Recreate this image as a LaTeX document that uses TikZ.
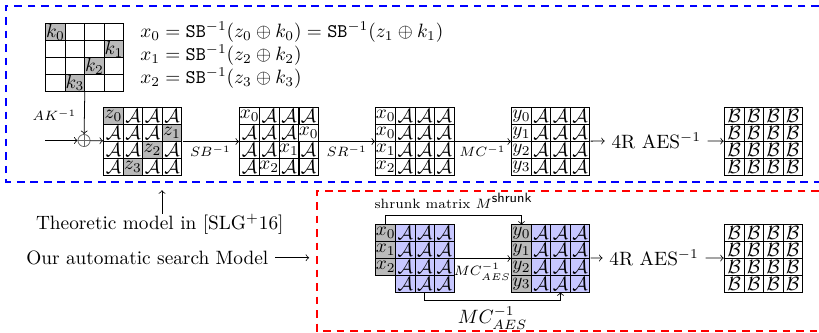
\documentclass[tikz,border=0pt]{standalone}
\usetikzlibrary{matrix}
\newcommand{\cA}{\mathcal{A}}
\newcommand{\cB}{\mathcal{B}}
\tikzset{
  cell/.style={draw, minimum width=0.355cm, minimum height=0.307cm, inner sep=0pt, outer sep=0pt, anchor=center},
  gr/.style={fill=black!27},
  bl/.style={fill=blue!22},
  state/.style={matrix of math nodes, nodes={cell}, column sep=-\pgflinewidth, row sep=-\pgflinewidth, inner sep=0pt, anchor=north west},
  lbl/.style={below=1pt, inner sep=1pt},
  frame/.style={thick, dash pattern=on 4pt off 3pt},
}
\begin{document}
\begin{tikzpicture}
\useasboundingbox (0,0) rectangle (14.914,6.064);

\matrix (K) [state, nodes in empty cells] at (0.82,5.645) {
|[gr]| k_0 & & & \\
& & & |[gr]| k_1 \\
& & |[gr]| k_2 & \\
& |[gr]| k_3 & & \\
};
\node[anchor=west, align=left] (eqs) at (2.43,5.06) {$x_0 = \texttt{SB}^{-1}(z_0\oplus k_0) = \texttt{SB}^{-1}(z_1\oplus k_1)$\\
$x_1 = \texttt{SB}^{-1}(z_2\oplus k_2)$\\
$x_2 = \texttt{SB}^{-1}(z_3\oplus k_3)$};

\matrix (S1) [state] at (1.876,4.115) {
|[gr]| z_0 & \cA & \cA & \cA \\
\cA & \cA & \cA & |[gr]| z_1 \\
\cA & \cA & |[gr]| z_2 & \cA \\
\cA & |[gr]| z_3 & \cA & \cA \\
};
\matrix (S2) [state] at (4.352,4.115) {
x_0 & \cA & \cA & \cA \\
\cA & \cA & \cA & x_0 \\
\cA & \cA & x_1 & \cA \\
\cA & x_2 & \cA & \cA \\
};
\matrix (S3) [state] at (6.829,4.115) {
x_0 & \cA & \cA & \cA \\
x_0 & \cA & \cA & \cA \\
x_1 & \cA & \cA & \cA \\
x_2 & \cA & \cA & \cA \\
};
\matrix (S4) [state] at (9.305,4.115) {
y_0 & \cA & \cA & \cA \\
y_1 & \cA & \cA & \cA \\
y_2 & \cA & \cA & \cA \\
y_3 & \cA & \cA & \cA \\
};
\node (aes1) at (11.95,3.505) {4R AES$^{-1}$};
\matrix (B1) [state] at (13.18,4.115) {
\cB & \cB & \cB & \cB \\
\cB & \cB & \cB & \cB \\
\cB & \cB & \cB & \cB \\
\cB & \cB & \cB & \cB \\
};

\node[circle, draw=black!60, minimum size=0.22cm, inner sep=0pt] (xor) at (1.53,3.505) {};
\draw[black!60] (xor.north) -- (xor.south) (xor.west) -- (xor.east);
\coordinate (in) at (0.82,3.505);
\node (ak) at (1.00,3.97) {$_{AK^{-1}}$};

\draw[->] (in) -- (xor);
\draw[->] (K-4-2.south east) -- (xor);
\draw[->] (xor) -- (S1);
\draw[->] (S1) -- node[lbl] {$_{SB^{-1}}$} (S2);
\draw[->] (S2) -- node[lbl] {$_{SR^{-1}}$} (S3);
\draw[->] (S3) -- node[lbl] {$_{MC^{-1}}$} (S4);
\draw[->] (S4) -- (aes1);
\draw[->] (aes1) -- (B1);

\node[inner sep=0pt] (theo) at (2.91,1.985) {Theoretic model in [SLG$^+$16]};
\coordinate (blue) at (2.95,2.60);
\draw[->] (theo.north -| blue) -- (blue);
\node[anchor=east] (ours) at (5.01,1.37) {Our automatic search Model};
\coordinate (red) at (5.63,1.37);
\draw[->] (ours) -- (red);

\matrix (G5) [state, column 1/.style={nodes={gr}}, column 2/.style={nodes={bl}}, column 3/.style={nodes={bl}}, column 4/.style={nodes={bl}}] at (6.829,1.985) {
x_0 & \cA & \cA & \cA \\
x_1 & \cA & \cA & \cA \\
x_2 & \cA & \cA & \cA \\
& \cA & \cA & \cA \\
};
\matrix (G6) [state, column 1/.style={nodes={gr}}, column 2/.style={nodes={bl}}, column 3/.style={nodes={bl}}, column 4/.style={nodes={bl}}] at (9.305,1.985) {
y_0 & \cA & \cA & \cA \\
y_1 & \cA & \cA & \cA \\
y_2 & \cA & \cA & \cA \\
y_3 & \cA & \cA & \cA \\
};
\node (aes2) at (11.91,1.375) {4R AES$^{-1}$};
\matrix (B2) [state] at (13.18,1.985) {
\cB & \cB & \cB & \cB \\
\cB & \cB & \cB & \cB \\
\cB & \cB & \cB & \cB \\
\cB & \cB & \cB & \cB \\
};

\draw[->] (G5) -- node[lbl] {$_{MC^{-1}_{AES}}$} (G6);
\draw[->] (G6) -- (aes2);
\draw[->] (aes2) -- (B2);
\draw[->] (G5-1-1.north) -- ++(0,0.164) -| node[pos=0.25, above, font=\scriptsize] {shrunk matrix $M^{\textsf{shrunk}}$} (G6-1-1.north);
\draw[->] (G5-4-3.south) -- ++(0,-0.145) -| node[pos=0.25, below] {$MC^{-1}_{AES}$} (G6-4-3.south);

\draw[blue, frame] (14.914,5.955) -| (0.11,2.75) -- (14.914,2.75);
\draw[red, frame] (14.914,2.59) -| (5.77,0.04) -- (14.914,0.04);
\end{tikzpicture}
\end{document}
